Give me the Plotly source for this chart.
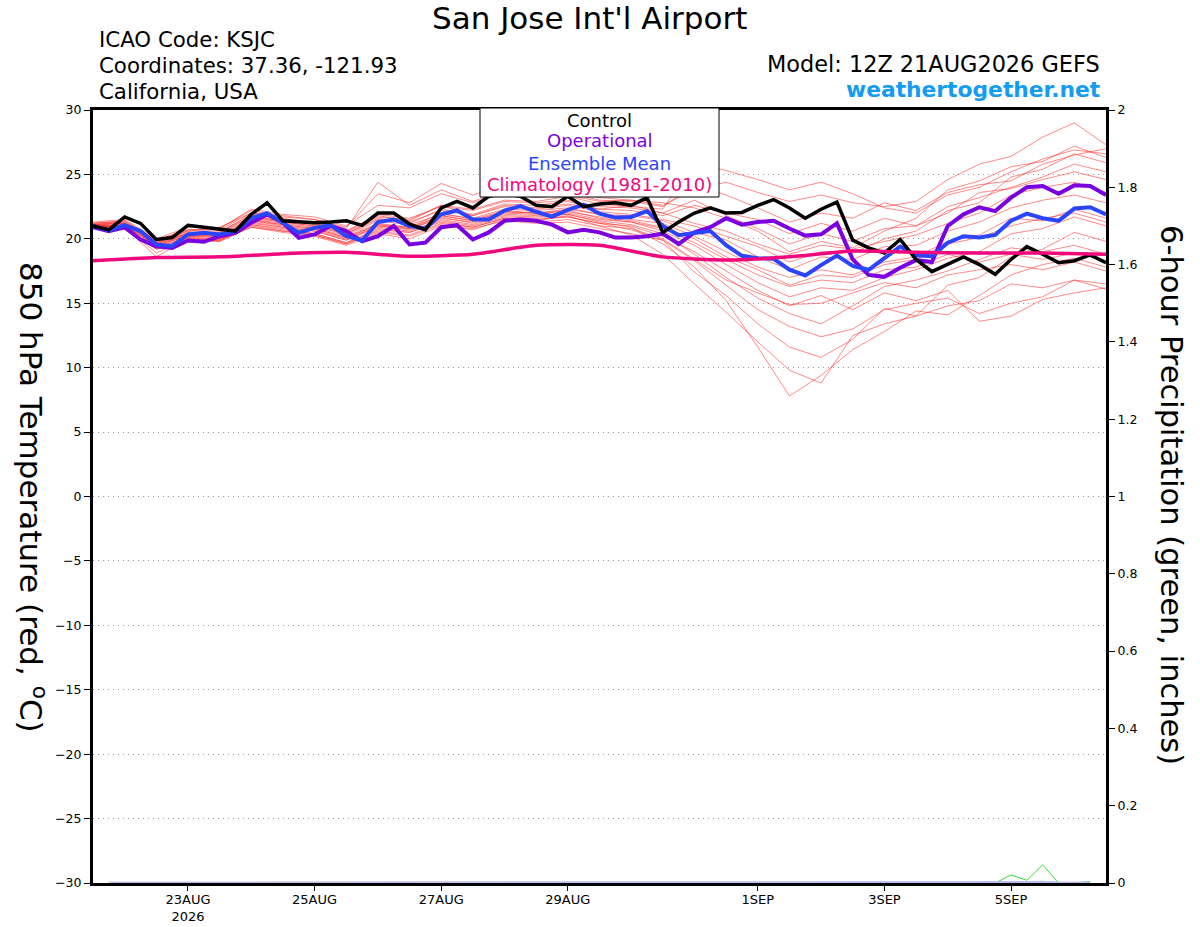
import pandas as pd
import plotly.graph_objects as go

INIT = "2026-08-21 12:00"
END = "2026-09-06 12:00"

# 6-hourly 850 hPa temperature (deg C), 21AUG 12Z .. 6SEP 12Z
control = [21.0, 20.7, 21.7, 21.2, 19.95, 20.1, 21.05, 20.9, 20.7, 20.6, 21.9,
           22.8, 21.4, 21.3, 21.25, 21.3, 21.4, 21.05, 22.0, 22.0, 21.15, 20.7,
           22.4, 22.9, 22.4, 23.3, 23.5, 23.3, 22.6, 22.5, 23.3, 22.5, 22.7,
           22.8, 22.6, 23.2, 20.5, 21.3, 22.0, 22.4, 22.0, 22.05, 22.6, 23.05,
           22.4, 21.6, 22.3, 22.85, 19.9, 19.3, 18.9, 19.95, 18.4, 17.45, 18.0,
           18.6, 18.0, 17.25, 18.4, 19.4, 18.8, 18.15, 18.3, 18.75, 18.15]

operational = [20.9, 20.6, 20.9, 19.95, 19.43, 19.3, 19.87, 19.77, 20.2, 20.47, 21.24,
               21.9, 21.24, 20.08, 20.34, 21.0, 20.6, 19.8, 20.2, 21.0, 19.56, 19.7,
               20.9, 21.06, 19.95, 20.5, 21.4, 21.5, 21.4, 21.1, 20.5, 20.7, 20.5,
               20.1, 20.1, 20.2, 20.4, 19.6, 20.5, 20.9, 21.6, 21.1, 21.3, 21.4,
               20.8, 20.25, 20.35, 21.2, 18.4, 17.2, 17.05, 17.75, 18.35, 18.2, 21.0,
               21.9, 22.45, 22.15, 23.2, 24.0, 24.1, 23.5, 24.15, 24.1, 23.4]

ens_mean = [21.0, 20.65, 21.06, 20.6, 19.56, 19.43, 20.34, 20.47, 20.34, 20.6, 21.6,
            22.0, 21.24, 20.47, 20.85, 21.06, 20.2, 19.87, 21.3, 21.5, 21.0, 20.8,
            21.9, 22.2, 21.5, 21.5, 22.2, 22.54, 22.1, 21.72, 22.25, 22.65, 21.95,
            21.65, 21.7, 22.15, 21.0, 20.28, 20.45, 20.6, 19.5, 18.68, 18.5, 18.45,
            17.6, 17.16, 17.96, 18.7, 17.9, 17.6, 18.5, 19.4, 18.73, 18.65, 19.7,
            20.2, 20.1, 20.3, 21.4, 21.96, 21.6, 21.4, 22.35, 22.45, 21.9]

# daily (12Z) climatology 1981-2010
climatology = [18.3, 18.55, 18.6, 18.85, 18.95, 18.65, 18.8, 19.5, 19.5,
               18.6, 18.35, 18.6, 19.05, 18.95, 18.9, 18.9, 18.8]

# 12-hourly ensemble members
m01 = [21.3, 21.5, 20.0, 20.9, 20.8, 22.3, 21.9, 21.7, 21.0, 22.6, 22.4,
       23.5, 22.8, 23.6, 23.2, 23.4, 22.9, 23.0, 22.6, 23.8, 24.4, 23.6,
       22.9, 23.4, 22.8, 22.5, 22.9, 24.6, 25.8, 26.4, 27.9, 29.0, 27.3]
m02 = [21.1, 21.2, 19.8, 20.6, 20.9, 22.0, 21.6, 21.2, 20.6, 21.8, 21.4,
       22.6, 22.3, 23.0, 22.9, 23.3, 22.7, 22.5, 22.3, 25.9, 25.3, 24.6,
       23.8, 24.4, 23.5, 22.4, 22.0, 23.4, 24.0, 25.2, 26.2, 26.9, 26.6]
m03 = [20.9, 20.8, 19.3, 20.1, 20.0, 21.2, 20.9, 20.6, 19.9, 20.9, 20.6,
       21.5, 21.1, 21.8, 21.7, 21.9, 21.3, 20.9, 19.6, 17.8, 15.2, 11.6,
       7.8, 9.4, 11.4, 12.8, 14.4, 14.1, 15.6, 17.2, 18.0, 18.5, 17.8]
m04 = [21.0, 20.9, 18.6, 20.0, 19.8, 21.0, 20.6, 20.3, 19.6, 20.7, 20.5,
       21.3, 20.9, 21.6, 21.4, 21.8, 21.0, 20.3, 18.8, 16.5, 14.3, 12.0,
       9.8, 8.8, 12.5, 13.4, 14.0, 14.8, 15.2, 16.5, 16.2, 16.8, 16.1]
m05 = [20.8, 20.7, 19.2, 19.8, 19.9, 20.9, 20.5, 20.2, 19.5, 20.4, 20.0,
       21.0, 20.8, 21.4, 21.2, 21.3, 20.8, 20.4, 19.9, 18.3, 16.4, 14.5,
       13.2, 12.4, 13.0, 14.5, 15.0, 15.4, 14.2, 15.0, 15.5, 16.8, 16.5]
m06 = [21.0, 21.0, 19.5, 20.2, 20.1, 21.4, 21.0, 20.7, 20.0, 21.0, 20.8,
       21.6, 21.3, 22.0, 21.9, 22.0, 21.5, 21.3, 20.6, 19.5, 18.0, 16.6,
       15.5, 16.2, 16.0, 17.0, 17.6, 18.5, 19.0, 20.4, 20.8, 21.7, 21.0]
m07 = [21.2, 21.3, 19.7, 20.5, 20.5, 21.9, 21.5, 21.2, 20.5, 21.7, 21.5,
       22.6, 21.8, 22.6, 22.4, 22.7, 22.3, 22.2, 21.8, 22.6, 22.0, 21.5,
       20.4, 21.2, 20.6, 21.6, 21.0, 22.5, 23.2, 24.0, 24.8, 25.8, 25.2]
m08 = [20.9, 21.1, 19.6, 20.4, 20.5, 21.7, 21.3, 21.0, 20.4, 21.6, 21.2,
       22.3, 21.9, 22.7, 22.6, 22.9, 22.3, 22.6, 22.0, 21.2, 20.6, 19.6,
       18.8, 19.5, 19.2, 19.8, 20.3, 21.2, 22.0, 23.4, 24.0, 24.4, 23.6]
m09 = [21.0, 20.9, 18.9, 20.0, 19.9, 21.1, 20.8, 20.4, 19.7, 20.6, 20.3,
       21.2, 20.9, 21.6, 21.5, 21.7, 21.2, 21.0, 20.2, 19.0, 17.5, 16.0,
       14.8, 15.6, 14.5, 15.8, 15.2, 16.0, 13.6, 14.0, 15.3, 15.8, 16.2]
m10 = [21.1, 21.2, 19.6, 20.3, 20.2, 21.5, 21.2, 20.9, 20.2, 21.2, 20.9,
       22.0, 21.5, 22.2, 22.0, 22.3, 21.9, 21.5, 21.2, 20.2, 19.0, 17.8,
       17.0, 17.6, 17.2, 18.2, 18.6, 19.8, 20.3, 21.6, 21.4, 22.3, 21.6]
m11 = [21.2, 21.4, 19.9, 20.7, 20.8, 22.2, 21.7, 21.5, 20.9, 23.5, 22.8,
       24.3, 23.4, 24.2, 23.8, 23.6, 23.0, 22.9, 22.5, 24.2, 23.4, 22.4,
       21.3, 22.0, 21.6, 22.8, 22.2, 23.6, 24.2, 24.5, 25.8, 26.5, 27.0]
m12 = [20.9, 21.0, 19.4, 20.1, 20.0, 21.3, 20.9, 20.6, 19.9, 21.0, 20.7,
       21.7, 21.2, 21.9, 21.8, 21.9, 21.4, 21.1, 20.4, 18.8, 17.0, 15.4,
       14.2, 13.4, 14.8, 16.3, 16.8, 17.5, 18.4, 19.3, 19.0, 19.5, 18.8]
m13 = [21.0, 21.1, 19.7, 20.4, 20.3, 21.6, 21.3, 21.0, 20.3, 21.4, 21.1,
       21.9, 21.6, 22.3, 22.2, 22.4, 21.9, 21.8, 21.4, 20.5, 19.9, 18.6,
       17.6, 18.6, 18.4, 19.4, 19.5, 20.6, 21.3, 22.4, 23.0, 23.4, 22.8]
m14 = [20.8, 20.8, 19.2, 19.9, 19.8, 20.9, 20.6, 20.3, 19.6, 20.5, 20.2,
       21.1, 20.7, 21.5, 21.3, 21.5, 21.0, 20.8, 20.0, 18.4, 16.8, 15.8,
       14.9, 15.0, 15.8, 16.6, 16.2, 17.2, 17.6, 18.0, 17.6, 18.2, 17.5]
m15 = [21.1, 21.2, 19.7, 20.4, 20.4, 21.7, 21.4, 21.1, 20.4, 21.5, 21.3,
       22.2, 21.8, 22.5, 22.3, 22.6, 22.1, 21.9, 21.5, 21.0, 20.2, 19.4,
       18.2, 19.0, 18.9, 20.0, 20.6, 22.2, 22.8, 24.8, 25.4, 26.6, 25.9]
m16 = [21.0, 21.0, 19.5, 20.2, 20.2, 21.5, 21.1, 20.8, 20.1, 21.1, 20.9,
       21.8, 21.4, 22.1, 22.0, 22.1, 21.7, 21.4, 20.9, 20.0, 18.6, 17.6,
       16.4, 17.2, 17.0, 18.0, 18.4, 19.6, 20.1, 21.0, 21.6, 22.0, 21.3]
m17 = [20.9, 20.9, 19.3, 20.0, 19.9, 21.1, 20.7, 20.4, 19.7, 20.8, 20.5,
       21.4, 21.0, 21.7, 21.6, 21.7, 21.2, 20.7, 19.9, 17.4, 15.6, 13.4,
       11.6, 10.8, 12.2, 14.6, 14.0, 16.4, 17.0, 18.6, 19.2, 20.5, 19.8]
m18 = [21.1, 21.3, 19.8, 20.6, 20.6, 21.8, 21.4, 21.3, 20.6, 21.9, 21.6,
       22.5, 22.2, 22.9, 22.8, 23.0, 22.5, 22.4, 22.0, 23.0, 21.8, 20.8,
       19.6, 20.4, 19.8, 20.8, 21.0, 22.0, 23.6, 23.9, 24.6, 25.2, 24.6]
m19 = [21.0, 21.1, 19.5, 20.3, 20.2, 21.4, 21.1, 20.8, 20.1, 21.1, 20.8,
       21.8, 21.4, 22.1, 22.0, 22.2, 21.6, 21.3, 20.8, 19.7, 18.4, 17.2,
       16.3, 16.8, 16.6, 17.6, 17.8, 18.8, 18.2, 18.8, 18.4, 18.9, 18.3]
m20 = [21.2, 21.4, 19.9, 20.7, 20.7, 22.0, 21.8, 21.5, 20.8, 24.4, 22.6,
       23.8, 22.9, 23.8, 23.5, 23.7, 23.2, 23.0, 22.8, 22.4, 21.6, 20.6,
       19.0, 19.8, 19.3, 20.6, 21.6, 23.8, 24.5, 25.6, 26.0, 27.2, 26.3]
members = [m01, m02, m03, m04, m05, m06, m07, m08, m09, m10,
           m11, m12, m13, m14, m15, m16, m17, m18, m19, m20]

# 6-hour precipitation (inches), 6-hourly from 21AUG 18Z
precip_member = [0.0, 0.0, 0.0, 0.0, 0.0, 0.0, 0.0, 0.0, 0.0, 0.0, 0.0, 0.0, 0.0,
                 0.0, 0.0, 0.0, 0.0, 0.0, 0.0, 0.0, 0.0, 0.0, 0.0, 0.0, 0.0, 0.0,
                 0.0, 0.0, 0.0, 0.0, 0.0, 0.0, 0.0, 0.0, 0.0, 0.0, 0.0, 0.0, 0.0,
                 0.0, 0.0, 0.0, 0.0, 0.0, 0.0, 0.0, 0.0, 0.0, 0.0, 0.0, 0.0, 0.0,
                 0.0, 0.0, 0.0, 0.0, 0.0, 0.021, 0.007, 0.047, 0.0, 0.0, 0.004]
precip_mean = [0.0, 0.0, 0.0, 0.0, 0.0, 0.0, 0.0, 0.0, 0.0, 0.0, 0.0, 0.0, 0.0,
               0.0, 0.0, 0.0, 0.0, 0.0, 0.0, 0.0, 0.0, 0.0, 0.0, 0.0, 0.0, 0.0,
               0.0, 0.0, 0.0, 0.0, 0.0, 0.0, 0.0, 0.0, 0.0, 0.0, 0.0, 0.0, 0.0,
               0.0, 0.0, 0.0, 0.0, 0.0, 0.0, 0.0, 0.0, 0.0, 0.0, 0.0, 0.0, 0.0,
               0.0, 0.0, 0.0, 0.0, 0.0, 0.001, 0.001, 0.002, 0.0, 0.0, 0.0]

x_tick_vals = ["2026-08-23", "2026-08-25", "2026-08-27", "2026-08-29",
               "2026-09-01", "2026-09-03", "2026-09-05"]
x_tick_text = ["23AUG<br>2026", "25AUG", "27AUG", "29AUG", "1SEP", "3SEP", "5SEP"]

t6 = pd.date_range(INIT, periods=len(control), freq="6h")
t12 = pd.date_range(INIT, periods=len(m01), freq="12h")
t24 = pd.date_range(INIT, periods=len(climatology), freq="24h")
tp = pd.date_range("2026-08-21 18:00", periods=len(precip_member), freq="6h")

FONT = "DejaVu Sans, Liberation Sans, Arial, sans-serif"
C_OPER = "#7b00e0"
C_MEAN = "#2b45ff"
C_CLIM = "#f0087c"

fig = go.Figure()
for m in members:
    fig.add_trace(go.Scatter(x=t12, y=m, mode="lines",
                             line=dict(color="rgba(255,40,40,0.55)", width=1),
                             hoverinfo="skip", showlegend=False))
fig.add_trace(go.Scatter(x=t6, y=operational, mode="lines",
                         line=dict(color=C_OPER, width=4), showlegend=False))
fig.add_trace(go.Scatter(x=t6, y=ens_mean, mode="lines",
                         line=dict(color=C_MEAN, width=4), showlegend=False))
fig.add_trace(go.Scatter(x=t6, y=control, mode="lines",
                         line=dict(color="black", width=3.5), showlegend=False))
fig.add_trace(go.Scatter(x=t24, y=climatology, mode="lines",
                         line=dict(color=C_CLIM, width=3.5, shape="spline", smoothing=0.6),
                         showlegend=False))
fig.add_trace(go.Scatter(x=tp, y=precip_member, mode="lines", yaxis="y2",
                         line=dict(color="#33dd33", width=1), showlegend=False))
fig.add_trace(go.Scatter(x=tp, y=precip_mean, mode="lines", yaxis="y2",
                         line=dict(color="#bcbce8", width=3), showlegend=False))

W, H = 1200, 927
L, R, T, B = 93, 94, 110, 44
pw, ph = W - L - R, H - T - B


def px(xp):
    return (xp - L) / pw


def py(yp):
    return (H - B - yp) / ph


fig.update_layout(
    width=W, height=H,
    margin=dict(l=L, r=R, t=T, b=B, pad=0, autoexpand=False),
    paper_bgcolor="white", plot_bgcolor="white",
    font=dict(family=FONT, color="black", size=13),
    showlegend=False,
    xaxis=dict(type="date", range=[INIT, END], tickvals=x_tick_vals, ticktext=x_tick_text,
               ticks="outside", ticklen=5, tickwidth=1, tickcolor="black",
               showline=True, linecolor="black", linewidth=3, mirror=True,
               showgrid=False, zeroline=False, tickfont=dict(size=13),
               ticklabelstandoff=-3, automargin=False),
    yaxis=dict(range=[-30, 30], dtick=5, tick0=-30, ticks="outside", ticklen=6,
               tickwidth=1, tickcolor="black", showline=True, linecolor="black",
               linewidth=3, mirror=True, showgrid=True, gridcolor="#9a9a9a",
               gridwidth=1.2, griddash="1px,4px", zeroline=False,
               tickfont=dict(size=12.5), automargin=False),
    yaxis2=dict(range=[0, 2], dtick=0.2, tick0=0, overlaying="y", side="right",
                ticks="outside", ticklen=6, tickwidth=1, tickcolor="black",
                showline=True, linecolor="black", linewidth=3, showgrid=False,
                zeroline=False, tickfont=dict(size=12.5), automargin=False),
)

ann = []
ann.append(dict(text="San Jose Int'l Airport", x=px(589), y=py(18), xref="paper", yref="paper",
                xanchor="center", yanchor="middle", showarrow=False, font=dict(size=31)))
for txt, yy in [("ICAO Code: KSJC", 40), ("Coordinates: 37.36, -121.93", 66),
                ("California, USA", 92)]:
    ann.append(dict(text=txt, x=px(97), y=py(yy), xref="paper", yref="paper",
                    xanchor="left", yanchor="middle", showarrow=False, font=dict(size=21.3)))
ann.append(dict(text="Model: 12Z 21AUG2026 GEFS", x=px(1102), y=py(64), xref="paper",
                yref="paper", xanchor="right", yanchor="middle", showarrow=False,
                font=dict(size=22.4)))
ann.append(dict(text="<b>weathertogether.net</b>", x=px(1102), y=py(89), xref="paper",
                yref="paper", xanchor="right", yanchor="middle", showarrow=False,
                font=dict(size=21.8, color="#139cf2")))
for txt, col, yy in [("Control", "black", 121), ("Operational", C_OPER, 141),
                     ("Ensemble Mean", C_MEAN, 163), ("Climatology (1981-2010)", C_CLIM, 185)]:
    ann.append(dict(text=txt, x=px(599.5), y=py(yy), xref="paper", yref="paper",
                    xanchor="center", yanchor="middle", showarrow=False,
                    font=dict(size=18, color=col)))
ann.append(dict(text="850 hPa Temperature (red, <sup>o</sup>C)", x=px(33), y=py(497),
                xref="paper", yref="paper", xanchor="center", yanchor="middle",
                textangle=90, showarrow=False, font=dict(size=31)))
ann.append(dict(text="6-hour Precipitation (green, inches)", x=px(1172), y=py(495),
                xref="paper", yref="paper", xanchor="center", yanchor="middle",
                textangle=90, showarrow=False, font=dict(size=30.5)))
fig.update_layout(annotations=ann)

fig.add_shape(type="rect", xref="paper", yref="paper", x0=px(480), x1=px(719),
              y0=py(197), y1=py(108), fillcolor="white", line=dict(color="black", width=1),
              layer="above")

fig.write_html("out.html", config={"displayModeBar": False},
               post_script="document.body.style.margin='0px';")
